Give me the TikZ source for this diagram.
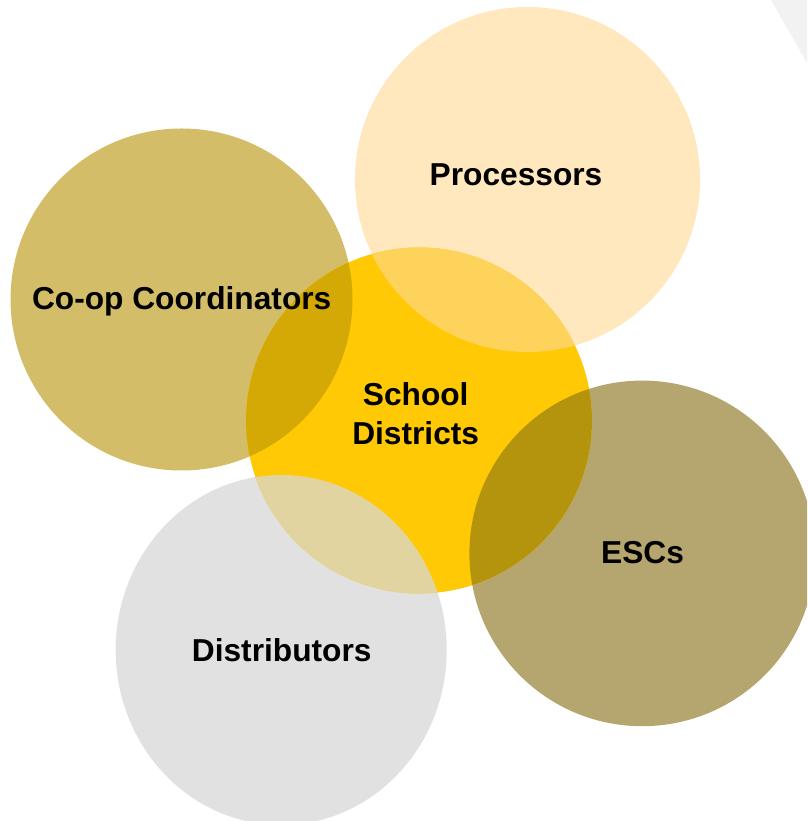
\documentclass[tikz,border=0pt]{standalone}
\usepackage{fontspec}
\setmainfont{Liberation Sans}
\definecolor{procfill}{HTML}{FFE8BD}
\definecolor{schoolfill}{HTML}{FFC905}
\definecolor{coopfill}{HTML}{D3BD68}
\definecolor{escfill}{HTML}{B5A56F}
\definecolor{distfill}{HTML}{E1E1E1}
\definecolor{procschool}{HTML}{FED35C}
\definecolor{coopschool}{HTML}{D4A906}
\definecolor{escschool}{HTML}{B4930D}
\definecolor{distschool}{HTML}{E1D4A0}
\definecolor{cornergray}{HTML}{F2F2F2}
\begin{document}
\begin{tikzpicture}[x=1pt,y=1pt,
  lbl/.style={font=\fontsize{31.7}{39}\selectfont\bfseries, text=black,
              anchor=base, inner sep=0pt, align=center}]
\useasboundingbox (0,0) rectangle (807,821);
\clip (0,0) rectangle (807,821);
\fill[white] (0,0) rectangle (807,821);
\fill[cornergray] (771,821) -- (807,821) -- (807,758) -- cycle;

% circle outlines used for fills and overlaps
\def\procC{(527.5,641.5) circle (172.5)}
\def\coopC{(181.5,521.5) circle (171)}
\def\schoolC{(419,400.5) circle (173)}
\def\escC{(642.2,267.6) circle (172.8)}
\def\distC{(281.2,171) ellipse [x radius=165.5, y radius=175]}

% base discs
\fill[procfill] \procC;
\fill[coopfill] \coopC;
\fill[escfill] \escC;
\fill[distfill] \distC;
\fill[schoolfill] \schoolC;

% overlaps with the central disc
\begin{scope}
  \clip \schoolC;
  \fill[procschool] \procC;
  \fill[coopschool] \coopC;
  \fill[escschool] \escC;
  \fill[distschool] \distC;
\end{scope}

% labels (a two-line node is placed by its last baseline)
\node[lbl] (proc) at (516,635) {Processors};
\node[lbl] (coop) at (181.7,511) {Co-op Coordinators};
\node[lbl] (school) at (415.7,376) {School\\Districts};
\node[lbl] (esc) at (642.6,257) {ESCs};
\node[lbl] (dist) at (281.7,159) {Distributors};
\end{tikzpicture}
\end{document}
